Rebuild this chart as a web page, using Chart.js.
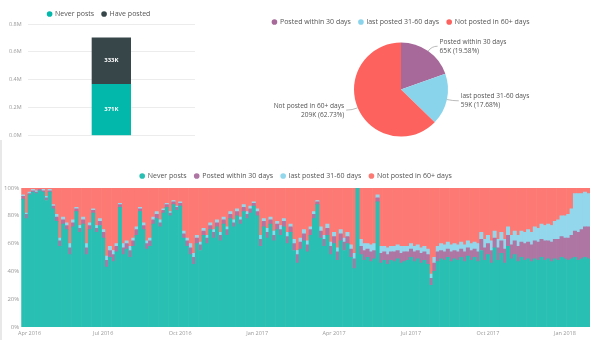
<!DOCTYPE html>
<html lang="en">
<head>
<meta charset="UTF-8">
<title>Posting activity</title>
<script src="https://cdn.jsdelivr.net/npm/chart.js@4.4.1/dist/chart.umd.min.js"></script>
<style>
  body { margin: 0; background: #fff; width: 602px; height: 340px; position: relative; overflow: hidden; }
  .box { position: absolute; }
  .edge { position: absolute; left: 0; top: 140px; width: 2px; height: 200px; background: #e8e8e8; }
</style>
</head>
<body>
<div class="edge"></div>
<div class="box" style="left:0;top:0;width:205px;height:145px"><canvas id="barChart"></canvas></div>
<div class="box" style="left:230px;top:0;width:338px;height:150px"><canvas id="pieChart"></canvas></div>
<div class="box" style="left:0;top:160px;width:602px;height:180px"><canvas id="trendChart"></canvas></div>
<script>
// --- data ---
const userGroups = ['Users'];
const neverPosts = [371000];
const havePosted = [333000];

const activityLabels = ['Posted within 30 days', 'last posted 31-60 days', 'Not posted in 60+ days'];
const activityUsers = [65200, 58870, 208850];

// share of users (%) per 4-day period, first period starts 2016-03-24
const firstPeriod = '2016-03-24';
const periodDays = 4;
const shareNever = [
  92, 78, 95, 97, 96, 98, 97, 91, 97, 85,  76, 58, 74, 70, 52, 72, 83, 68, 74, 52,
  70, 82, 68, 73, 64, 43, 50, 47, 54, 86,  52, 56, 50, 58, 66, 83, 70, 56, 58, 74,
  78, 72, 82, 86, 80, 88, 84, 87, 64, 58,  52, 45, 60, 55, 66, 60, 70, 64, 72, 62,
  74, 66, 78, 72, 80, 74, 83, 78, 82, 87,  80, 58, 72, 64, 74, 62, 70, 66, 72, 60,
  68, 55, 46, 56, 62, 54, 66, 78, 88, 64,  58, 66, 52, 60, 48, 62, 55, 60, 50, 42,
  100, 52, 48, 50, 47, 49, 90, 46, 48, 45,  48, 47, 49, 46, 47, 48, 50, 47, 49, 46,
  48, 45, 30, 40, 47, 49, 48, 50, 47, 49,  48, 50, 47, 51, 48, 50, 47, 55, 48, 52,
  46, 57, 48, 53, 46, 58, 49, 52, 47, 50,  48, 49, 47, 49, 48, 50, 48, 49, 47, 49,
  48, 50, 49, 48, 49, 50, 48, 49, 50, 49];
const shareWithin30 = [
  2, 3, 1, 1, 1, 1, 1, 2, 1, 2,  3, 4, 3, 3, 5, 3, 2, 3, 3, 5,
  3, 2, 3, 3, 4, 5, 5, 5, 4, 2,  5, 4, 5, 4, 4, 2, 3, 4, 4, 3,
  3, 3, 2, 2, 2, 2, 2, 2, 3, 4,  5, 5, 4, 4, 3, 4, 3, 4, 3, 4,
  3, 4, 3, 3, 3, 3, 3, 3, 3, 2,  3, 5, 4, 4, 3, 4, 4, 4, 4, 5,
  4, 5, 6, 5, 5, 5, 4, 3, 2, 5,  5, 5, 6, 5, 6, 5, 6, 5, 6, 7,
  0, 6, 7, 6, 7, 6, 3, 7, 6, 7,  6, 7, 6, 7, 7, 6, 6, 7, 6, 7,
  6, 7, 5, 6, 7, 6, 6, 6, 7, 6,  6, 6, 7, 6, 7, 6, 7, 8, 9, 8,
  9, 7, 9, 9, 10, 8, 10, 10, 11, 11,  12, 12, 12, 13, 13, 13, 14, 13, 14, 14,
  15, 15, 15, 16, 17, 19, 20, 21, 22, 23];
const share31to60 = [
  1, 1, 1, 1, 1, 0, 1, 1, 1, 1,  2, 2, 2, 2, 3, 2, 1, 2, 2, 3,
  2, 1, 2, 2, 2, 3, 3, 3, 2, 1,  3, 2, 3, 2, 2, 1, 2, 2, 2, 2,
  2, 2, 1, 1, 1, 1, 1, 1, 2, 2,  3, 3, 2, 2, 2, 2, 2, 2, 2, 2,
  2, 2, 2, 2, 2, 2, 2, 2, 2, 1,  2, 3, 2, 3, 2, 3, 2, 3, 2, 3,
  2, 3, 3, 3, 3, 3, 2, 2, 1, 3,  3, 3, 3, 3, 3, 3, 3, 3, 3, 4,
  0, 5, 5, 4, 5, 5, 2, 5, 4, 5,  4, 4, 4, 5, 4, 4, 4, 4, 4, 4,
  4, 4, 3, 4, 4, 5, 5, 5, 5, 5,  5, 5, 5, 5, 5, 5, 6, 5, 6, 6,
  7, 5, 6, 6, 7, 6, 7, 7, 8, 8,  8, 9, 9, 10, 10, 11, 11, 12, 12, 13,
  14, 15, 16, 17, 19, 27, 28, 26, 25, 24];
const share60plus = [
  5, 18, 3, 1, 2, 1, 1, 6, 1, 12,  19, 36, 21, 25, 40, 23, 14, 27, 21, 40,
  25, 15, 27, 22, 30, 49, 42, 45, 40, 11,  40, 38, 42, 36, 28, 14, 25, 38, 36, 21,
  17, 23, 15, 11, 17, 9, 13, 10, 31, 36,  40, 47, 34, 39, 29, 34, 25, 30, 23, 32,
  21, 28, 17, 23, 15, 21, 12, 17, 13, 10,  15, 34, 22, 29, 21, 31, 24, 27, 22, 32,
  26, 37, 45, 36, 30, 38, 28, 17, 9, 28,  34, 26, 39, 32, 43, 30, 36, 32, 41, 47,
  0, 37, 40, 40, 41, 40, 5, 42, 42, 43,  42, 42, 41, 42, 42, 42, 40, 42, 41, 43,
  42, 44, 62, 50, 42, 40, 41, 39, 41, 40,  41, 39, 41, 38, 40, 39, 40, 32, 37, 34,
  38, 31, 37, 32, 37, 28, 34, 31, 34, 31,  32, 30, 32, 28, 29, 26, 27, 26, 27, 24,
  23, 20, 20, 19, 15, 4, 4, 4, 3, 4];

const TEAL = '#01B8AA', DARK = '#374649', PURPLE = '#A66999', SKY = '#8AD4EB', CORAL = '#FD625E';
const FONT = '"Open Sans", sans-serif';
const MONTHS = ['Jan', 'Feb', 'Mar', 'Apr', 'May', 'Jun', 'Jul', 'Aug', 'Sep', 'Oct', 'Nov', 'Dec'];

// period start dates for the categories
const periodStarts = shareNever.map((_, i) => {
  const d = new Date(firstPeriod + 'T00:00:00Z');
  d.setUTCDate(d.getUTCDate() + periodDays * i);
  return d;
});
const periodLabels = periodStarts.map(d => d.toISOString().slice(0, 10));

// label the period that holds the first day of a quarter
function quarterTick(i) {
  const end = new Date(periodStarts[i]);
  end.setUTCDate(end.getUTCDate() + periodDays - 1);
  if (end.getUTCDate() <= periodDays && end.getUTCMonth() % 3 === 0) {
    return MONTHS[end.getUTCMonth()] + ' ' + end.getUTCFullYear();
  }
  return null;
}

function legendOpts() {
  return {
    labels: {
      usePointStyle: true, pointStyle: 'circle', boxWidth: 4, boxHeight: 4,
      padding: 8, color: '#555', font: { size: 7, family: FONT }
    }
  };
}

// legend box reserves 10px below the items; trim some of it
const tightLegend = {
  id: 'tightLegend',
  beforeLayout(chart, args, opts) {
    const legend = chart.legend;
    if (!legend || legend._trimmed) return;
    const fit = legend.fit;
    legend.fit = function () { fit.call(this); this.height -= opts.trim || 0; };
    legend._trimmed = true;
  }
};

// white value labels inside the stacked bar
const segmentLabels = {
  id: 'segmentLabels',
  afterDatasetsDraw(chart) {
    const ctx = chart.ctx;
    ctx.save();
    ctx.font = 'bold 6px ' + FONT;
    ctx.fillStyle = '#fff';
    ctx.textAlign = 'center';
    ctx.textBaseline = 'middle';
    chart.data.datasets.forEach((ds, di) => {
      chart.getDatasetMeta(di).data.forEach((bar, i) => {
        ctx.fillText(Math.round(ds.data[i] / 1000) + 'K', bar.x, (bar.y + bar.base) / 2);
      });
    });
    ctx.restore();
  }
};

// callout labels around the pie
const pieCallouts = {
  id: 'pieCallouts',
  afterDatasetsDraw(chart) {
    const ctx = chart.ctx;
    const ds = chart.data.datasets[0];
    const total = ds.data.reduce((a, b) => a + b, 0);
    ctx.save();
    ctx.font = '6.6px ' + FONT;
    ctx.textBaseline = 'middle';
    chart.getDatasetMeta(0).data.forEach((arc, i) => {
      const p = arc.getProps(['x', 'y', 'startAngle', 'endAngle', 'outerRadius']);
      const ang = (p.startAngle + p.endAngle) / 2;
      const cos = Math.cos(ang), sin = Math.sin(ang);
      const x0 = p.x + cos * p.outerRadius, y0 = p.y + sin * p.outerRadius;
      const x1 = p.x + cos * (p.outerRadius + 6), y1 = p.y + sin * (p.outerRadius + 6);
      const dir = cos >= 0 ? 1 : -1;
      const x2 = x1 + dir * 6;
      ctx.strokeStyle = '#aaa';
      ctx.lineWidth = 0.8;
      ctx.beginPath();
      ctx.moveTo(x0, y0);
      ctx.quadraticCurveTo(x1, y1, x2, y1);
      ctx.stroke();
      ctx.fillStyle = '#555';
      ctx.textAlign = dir > 0 ? 'left' : 'right';
      const tx = x2 + dir * 2;
      const pct = (ds.data[i] / total * 100).toFixed(2);
      ctx.fillText(chart.data.labels[i], tx, y1 - 4.5);
      ctx.fillText(Math.round(ds.data[i] / 1000) + 'K (' + pct + '%)', tx, y1 + 4.5);
    });
    ctx.restore();
  }
};

// --- top left: stacked users bar ---
new Chart(document.getElementById('barChart'), {
  type: 'bar',
  data: {
    labels: userGroups,
    datasets: [
      { label: 'Never posts', data: neverPosts, backgroundColor: TEAL },
      { label: 'Have posted', data: havePosted, backgroundColor: DARK }
    ]
  },
  options: {
    responsive: true, maintainAspectRatio: false, animation: false,
    layout: { autoPadding: false, padding: { left: 3, right: 10, top: 2.5, bottom: 8 } },
    datasets: { bar: { categoryPercentage: 1, barPercentage: 0.235 } },
    scales: {
      x: { stacked: true, display: false },
      y: {
        stacked: true, min: 0, max: 800000,
        ticks: { stepSize: 200000, padding: 6, color: '#999', font: { size: 5.5, family: FONT },
                 callback: v => (v / 1e6).toFixed(1) + 'M' },
        grid: { color: '#ececec', drawTicks: false },
        border: { display: false }
      }
    },
    plugins: { legend: legendOpts(), tooltip: { enabled: false }, tightLegend: { trim: 3.5 } }
  },
  plugins: [tightLegend, segmentLabels]
});

// --- top right: activity pie ---
new Chart(document.getElementById('pieChart'), {
  type: 'pie',
  data: {
    labels: activityLabels,
    datasets: [{ data: activityUsers, backgroundColor: [PURPLE, SKY, CORAL], borderWidth: 0, radius: 47 }]
  },
  options: {
    responsive: true, maintainAspectRatio: false, animation: false,
    layout: { padding: { left: 4, right: 0, top: 10.5, bottom: 6.5 } },
    plugins: { legend: legendOpts(), tooltip: { enabled: false } }
  },
  plugins: [pieCallouts]
});

// --- bottom: 100% stacked shares over time ---
new Chart(document.getElementById('trendChart'), {
  type: 'bar',
  data: {
    labels: periodLabels,
    datasets: [
      { label: 'Never posts', data: shareNever, backgroundColor: '#29C0B3' },
      { label: 'Posted within 30 days', data: shareWithin30, backgroundColor: '#AE76A3' },
      { label: 'last posted 31-60 days', data: share31to60, backgroundColor: '#93D7EC' },
      { label: 'Not posted in 60+ days', data: share60plus, backgroundColor: '#FD7A74' }
    ]
  },
  options: {
    responsive: true, maintainAspectRatio: false, animation: false,
    layout: { autoPadding: false, padding: { left: 2, right: 12, top: 4.5, bottom: 0.5 } },
    datasets: { bar: { categoryPercentage: 1, barPercentage: 1, borderWidth: 0 } },
    scales: {
      x: {
        stacked: true, grid: { display: false, drawTicks: false }, border: { display: false },
        ticks: { autoSkip: false, maxRotation: 0, padding: 3, color: '#999', font: { size: 5.5, family: FONT },
                 callback: (v, i) => quarterTick(i) }
      },
      y: {
        stacked: true, min: 0, max: 100,
        ticks: { stepSize: 20, padding: 2, color: '#999', font: { size: 6, family: FONT }, callback: v => v + '%' },
        grid: { display: false, drawTicks: false }, border: { display: false }
      }
    },
    plugins: { legend: legendOpts(), tooltip: { enabled: false }, tightLegend: { trim: 1.5 } }
  },
  plugins: [tightLegend]
});
</script>
</body>
</html>
